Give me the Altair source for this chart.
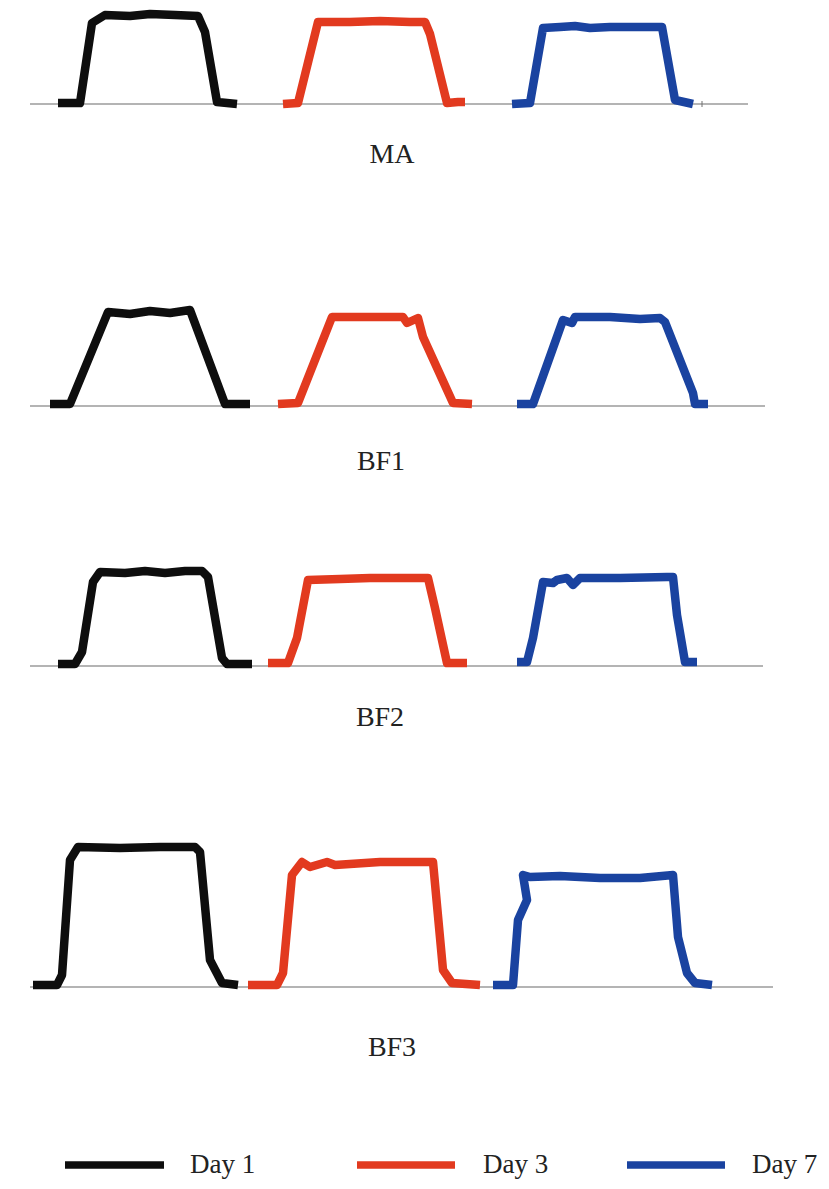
import altair as alt
import pandas as pd

# ---------------- data (position units, profile height above baseline) ----------------
days = ["Day 1", "Day 3", "Day 7"]
colors = ["#0e0e0e", "#e23a1f", "#1a43a0"]
panels = ["MA", "BF1", "BF2", "BF3"]

# MA
ma_d1_x = [58, 80, 92, 105, 130, 150, 175, 198, 205, 217, 237]
ma_d1_h = [1, 1, 81, 89, 88, 90, 89, 88, 72, 2, 0]
ma_d3_x = [283, 298, 318, 350, 380, 410, 425, 430, 447, 458, 465]
ma_d3_h = [0, 1, 82, 82, 83, 82, 82, 70, 1, 2, 2]
ma_d7_x = [512, 530, 543, 560, 575, 590, 610, 640, 662, 675, 693]
ma_d7_h = [0, 1, 76, 77, 78, 76, 77, 77, 77, 4, 0]

# BF1
bf1_d1_x = [50, 70, 108, 130, 150, 170, 190, 225, 250]
bf1_d1_h = [2, 2, 94, 92, 95, 93, 96, 2, 2]
bf1_d3_x = [278, 298, 332, 370, 403, 407, 418, 423, 453, 472]
bf1_d3_h = [2, 3, 89, 89, 89, 83, 88, 69, 3, 2]
bf1_d7_x = [517, 533, 563, 572, 575, 610, 640, 660, 665, 693, 695, 708]
bf1_d7_h = [2, 2, 86, 83, 89, 89, 87, 88, 84, 13, 2, 2]

# BF2
bf2_d1_x = [58, 75, 82, 93, 100, 125, 145, 165, 185, 202, 208, 222, 227, 252]
bf2_d1_h = [2, 2, 14, 84, 94, 93, 95, 93, 95, 95, 89, 8, 2, 2]
bf2_d3_x = [268, 288, 297, 308, 340, 370, 400, 428, 435, 447, 467]
bf2_d3_h = [3, 3, 28, 86, 87, 88, 88, 88, 58, 3, 3]
bf2_d7_x = [517, 527, 533, 543, 553, 557, 567, 573, 580, 620, 667, 673, 677, 685, 697]
bf2_d7_h = [4, 4, 28, 84, 83, 86, 88, 81, 88, 88, 89, 89, 51, 4, 4]

# BF3
bf3_d1_x = [33, 57, 62, 70, 78, 120, 160, 195, 200, 210, 222, 238]
bf3_d1_h = [2, 2, 12, 127, 140, 139, 140, 140, 135, 27, 4, 2]
bf3_d3_x = [248, 277, 283, 292, 302, 310, 327, 335, 380, 433, 443, 452, 480]
bf3_d3_h = [2, 2, 14, 112, 125, 120, 125, 122, 125, 125, 17, 4, 2]
bf3_d7_x = [493, 513, 518, 527, 523, 530, 560, 600, 640, 673, 678, 687, 695, 712]
bf3_d7_h = [2, 2, 67, 87, 112, 110, 111, 109, 109, 112, 50, 14, 4, 2]

# baseline extents, label positions per panel
axis_start = [30, 30, 30, 30]
axis_end = [748, 765, 763, 773]
label_x = [392, 381, 380, 392]
label_y = [-51, -56, -52, -61]
y_domains = [[-146, 96], [-134, 156], [-124, 126], [-123, 197]]

series = {
    "MA": [(ma_d1_x, ma_d1_h), (ma_d3_x, ma_d3_h), (ma_d7_x, ma_d7_h)],
    "BF1": [(bf1_d1_x, bf1_d1_h), (bf1_d3_x, bf1_d3_h), (bf1_d7_x, bf1_d7_h)],
    "BF2": [(bf2_d1_x, bf2_d1_h), (bf2_d3_x, bf2_d3_h), (bf2_d7_x, bf2_d7_h)],
    "BF3": [(bf3_d1_x, bf3_d1_h), (bf3_d3_x, bf3_d3_h), (bf3_d7_x, bf3_d7_h)],
}

# legend
legend_x1 = [65, 357, 627]
legend_x2 = [164, 455, 725]
legend_text_x = [190, 483, 752]

W = 812
X_DOMAIN = [8, 8 + W]
FONT = "Liberation Serif"

color_scale = alt.Scale(domain=days, range=colors)


def panel(i, name):
    rows = []
    for d, (xs, hs) in zip(days, series[name]):
        for k, (x, h) in enumerate(zip(xs, hs)):
            rows.append({"day": d, "x": x, "h": h, "k": k})
    df = pd.DataFrame(rows)
    lo, hi = y_domains[i]
    xs = alt.Scale(domain=X_DOMAIN, nice=False, zero=False)
    ys = alt.Scale(domain=[lo, hi], nice=False, zero=False)

    base_rule = alt.Chart(
        pd.DataFrame({"x": [axis_start[i]], "x2": [axis_end[i]], "y": [0]})
    ).mark_rule(color="#6a6a6a", strokeWidth=1.2).encode(
        x=alt.X("x:Q", scale=xs, axis=None),
        x2="x2:Q",
        y=alt.Y("y:Q", scale=ys, axis=None),
    )
    lines = alt.Chart(df).mark_line(strokeWidth=8.5, strokeJoin="round", strokeCap="butt").encode(
        x=alt.X("x:Q", scale=xs, axis=None),
        y=alt.Y("h:Q", scale=ys, axis=None),
        color=alt.Color("day:N", scale=color_scale, legend=None),
        detail="day:N",
        order="k:Q",
    )
    label = alt.Chart(
        pd.DataFrame({"x": [label_x[i]], "y": [label_y[i]], "t": [name]})
    ).mark_text(font=FONT, fontSize=28, color="#222222", baseline="middle", align="center").encode(
        x=alt.X("x:Q", scale=xs, axis=None),
        y=alt.Y("y:Q", scale=ys, axis=None),
        text="t:N",
    )
    layers = [base_rule, lines, label]
    if name == "MA":
        tick = alt.Chart(pd.DataFrame({"x": [702], "y": [-3], "y2": [3]})).mark_rule(
            color="#707070", strokeWidth=1
        ).encode(
            x=alt.X("x:Q", scale=xs, axis=None),
            y=alt.Y("y:Q", scale=ys, axis=None),
            y2="y2:Q",
        )
        layers.append(tick)
    height = hi - lo
    return alt.layer(*layers).properties(width=W, height=height)


charts = [panel(i, n) for i, n in enumerate(panels)]

# legend panel
leg_df = pd.DataFrame(
    {"day": days, "x1": legend_x1, "x2": legend_x2, "tx": legend_text_x, "y": [16, 16, 16]}
)
lx = alt.Scale(domain=X_DOMAIN, nice=False, zero=False)
ly = alt.Scale(domain=[0, 71], nice=False, zero=False)
leg_lines = alt.Chart(leg_df).mark_rule(strokeWidth=7.5).encode(
    x=alt.X("x1:Q", scale=lx, axis=None),
    x2="x2:Q",
    y=alt.Y("y:Q", scale=ly, axis=None),
    color=alt.Color("day:N", scale=color_scale, legend=None),
)
leg_text = alt.Chart(leg_df).mark_text(
    font=FONT, fontSize=27, color="#222222", align="left", baseline="middle"
).encode(
    x=alt.X("tx:Q", scale=lx, axis=None),
    y=alt.Y("y:Q", scale=ly, axis=None),
    text="day:N",
)
legend = alt.layer(leg_lines, leg_text).properties(width=W, height=71)

chart = alt.vconcat(*charts, legend, spacing=0).properties(padding=0).configure_view(
    stroke=None
)

chart.save("out.html", embed_options={"renderer": "svg", "actions": False})
